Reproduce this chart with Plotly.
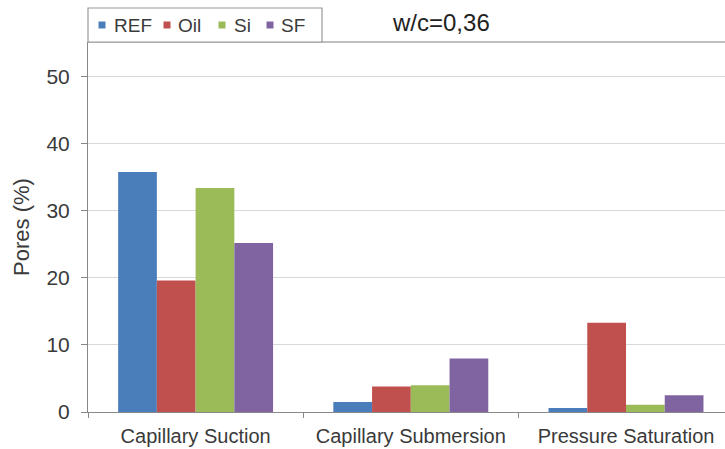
import plotly.graph_objects as go

categories = ["Capillary Suction", "Capillary Submersion", "Pressure Saturation"]
series_names = ["REF", "Oil", "Si", "SF"]
ref_vals = [35.8, 1.5, 0.6]
oil_vals = [19.6, 3.8, 13.3]
si_vals = [33.4, 4.0, 1.1]
sf_vals = [25.2, 8.0, 2.5]
colors = ["#4A7EBB", "#C0504D", "#9BBB59", "#8064A2"]
y_ticks = [0, 10, 20, 30, 40, 50]

W, H = 725, 449
ML, MR, MT, MB = 88, 0, 42, 37
PW, PH = W - ML - MR, H - MT - MB

def px(x):
    return (x - ML) / PW

def py(y):
    return (H - MB - y) / PH

fig = go.Figure()
for name, vals, col in zip(series_names, [ref_vals, oil_vals, si_vals, sf_vals], colors):
    fig.add_trace(go.Bar(name=name, x=categories, y=vals, marker=dict(color=col, line=dict(width=0))))

font_family = "Liberation Sans, Arial, sans-serif"
txt = "#3a3a3a"

shapes = [
    dict(type="line", xref="paper", yref="paper", x0=0, x1=1, y0=1, y1=1,
         line=dict(color="#AAAAAA", width=1.5)),
    dict(type="rect", xref="paper", yref="paper", x0=px(88), x1=px(322), y0=py(42), y1=py(8),
         line=dict(color="#999999", width=1.2), fillcolor="white"),
]
annotations = [
    dict(text="w/c=0,36", xref="paper", yref="paper", x=px(441), y=py(22),
         xanchor="center", yanchor="middle", showarrow=False,
         font=dict(size=24, color="#222222")),
]
leg_sq_x = [102, 167, 222, 270]
leg_txt_x = [112, 176, 232, 279]
for name, col, sx, tx in zip(series_names, colors, leg_sq_x, leg_txt_x):
    shapes.append(dict(type="rect", xref="paper", yref="paper",
                       x0=px(sx - 3.5), x1=px(sx + 3.5), y0=py(28.5), y1=py(21.5),
                       line=dict(width=0), fillcolor=col))
    annotations.append(dict(text=name, xref="paper", yref="paper", x=px(tx), y=py(25),
                            xanchor="left", yanchor="middle", showarrow=False,
                            font=dict(size=19, color=txt)))

fig.update_layout(
    width=W, height=H,
    margin=dict(l=ML, r=MR, t=MT, b=MB),
    paper_bgcolor="white", plot_bgcolor="white",
    barmode="group", bargap=0.28, bargroupgap=0,
    font=dict(family=font_family, size=20, color=txt),
    showlegend=False,
    xaxis=dict(range=[-0.5, 2.46], showline=True, linecolor="#888888", linewidth=1,
               ticks="outside", tickson="boundaries", ticklen=5, tickcolor="#888888",
               tickfont=dict(size=20, color=txt), showgrid=False, ticklabelstandoff=6),
    yaxis=dict(range=[0, 55.2], tickvals=y_ticks, showline=True, linecolor="#888888", linewidth=1,
               ticks="outside", ticklen=6, tickcolor="#888888", showgrid=True, gridcolor="#D9D9D9",
               gridwidth=1, zeroline=False, ticklabelstandoff=7,
               tickfont=dict(size=21, color=txt),
               title=dict(text="Pores (%)", font=dict(size=22, color=txt), standoff=10)),
    annotations=annotations,
    shapes=shapes,
)

fig.write_html("out.html")
